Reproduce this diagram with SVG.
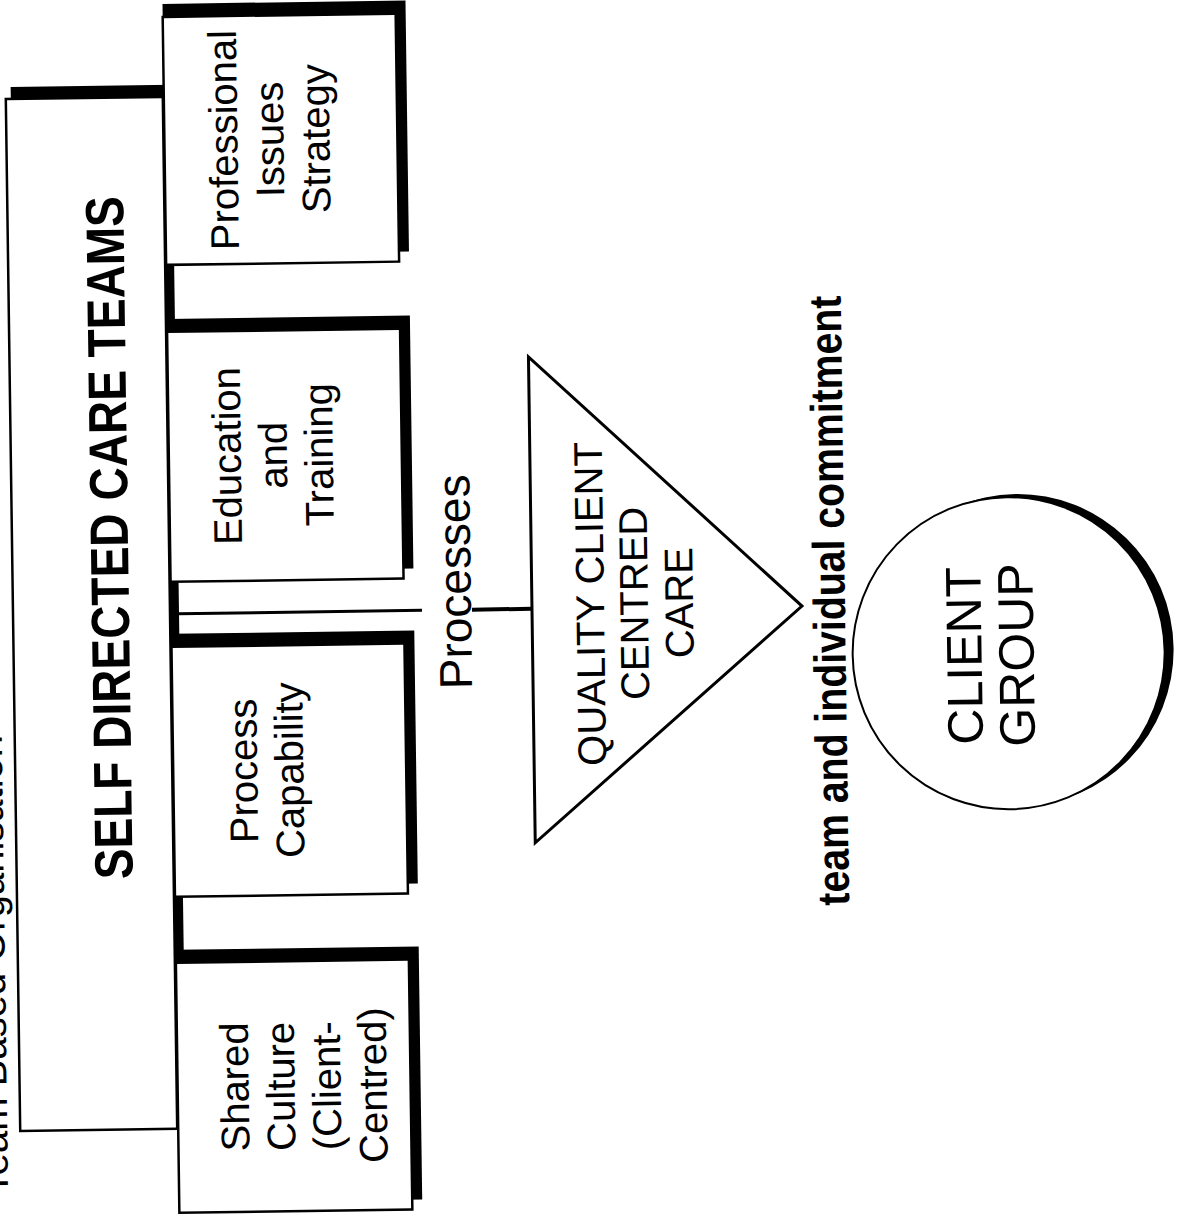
<svg xmlns="http://www.w3.org/2000/svg" width="1179" height="1220" viewBox="0 0 1179 1220">
<style>
text{font-family:"Liberation Sans",Arial,Helvetica,sans-serif;fill:#000;text-anchor:middle}
.lbl{font-size:40px}
.tri{font-size:40px}
.cli{font-size:50px}
.bold{font-weight:bold}
.shadow{fill:#000;stroke:none}
.box{fill:#fff;stroke:#000;stroke-width:2.5}
.conn{stroke:#000;fill:none}
</style>
<rect width="1179" height="1220" fill="#fff"/>
<g transform="rotate(-0.8 590 610)">
  <g id="team-organisation">
    <rect class="shadow" x="18" y="79" width="161" height="1034"/>
    <rect class="box" x="13" y="91" width="157" height="1032"/>
    <text class="lbl" transform="translate(0,1187) rotate(-90)" style="text-anchor:start">Team Based Organisation</text>
    <text class="bold" transform="translate(129,531) rotate(-90)" font-size="54" textLength="683" lengthAdjust="spacingAndGlyphs">SELF DIRECTED CARE TEAMS</text>
  </g>
  <g id="professional-issues">
    <rect class="shadow" x="171" y="-2" width="243" height="251"/>
    <rect class="box" x="171" y="11" width="233" height="248"/>
    <text class="lbl" transform="translate(244,135) rotate(-90)"><tspan x="0" y="0">Professional</tspan><tspan x="0" y="46">Issues</tspan><tspan x="0" y="92">Strategy</tspan></text>
  </g>
  <g id="education-training">
    <rect class="shadow" x="171" y="313" width="243" height="253"/>
    <rect class="box" x="171" y="326" width="233" height="250"/>
    <text class="lbl" transform="translate(243,451) rotate(-90)"><tspan x="0" y="0">Education</tspan><tspan x="0" y="46">and</tspan><tspan x="0" y="92">Training</tspan></text>
  </g>
  <g id="process-capability">
    <rect class="shadow" x="171" y="628" width="243" height="253"/>
    <rect class="box" x="171" y="641" width="233" height="250"/>
    <text class="lbl" transform="translate(255,766) rotate(-90)"><tspan x="0" y="0">Process</tspan><tspan x="0" y="46">Capability</tspan></text>
  </g>
  <g id="shared-culture">
    <rect class="shadow" x="171" y="944" width="243" height="253"/>
    <rect class="box" x="171" y="957" width="233" height="250"/>
    <text class="lbl" transform="translate(242,1082) rotate(-90)"><tspan x="0" y="0">Shared</tspan><tspan x="0" y="46">Culture</tspan><tspan x="0" y="92">(Client-</tspan><tspan x="0" y="138">Centred)</tspan></text>
  </g>
  <g id="connectors">
    <line class="conn" stroke-width="3" x1="178" y1="608" x2="422" y2="608"/>
    <line class="conn" stroke-width="4" x1="472" y1="608" x2="532" y2="608"/>
    <text transform="translate(471,580) rotate(-90)" font-size="46">Processes</text>
  </g>
  <g id="quality-care">
    <polygon points="532,356 532,842 802,609" fill="#fff" stroke="#000" stroke-width="3" stroke-linejoin="miter"/>
    <text class="tri" transform="translate(604,604) rotate(-90)"><tspan x="0" y="0">QUALITY CLIENT</tspan><tspan x="0" y="44">CENTRED</tspan><tspan x="0" y="89">CARE</tspan></text>
  </g>
  <g id="commitment">
    <text class="bold" transform="translate(845,604) rotate(-90)" font-size="45" textLength="610" lengthAdjust="spacingAndGlyphs">team and individual commitment</text>
  </g>
  <g id="client-group">
    <circle cx="1017" cy="656" r="156" class="shadow"/>
    <circle cx="1008" cy="659" r="156" fill="#fff" stroke="#000" stroke-width="2"/>
    <text class="cli" transform="translate(981,661) rotate(-90)"><tspan x="0" y="0">CLIENT</tspan><tspan x="0" y="52">GROUP</tspan></text>
  </g>
</g>
</svg>
